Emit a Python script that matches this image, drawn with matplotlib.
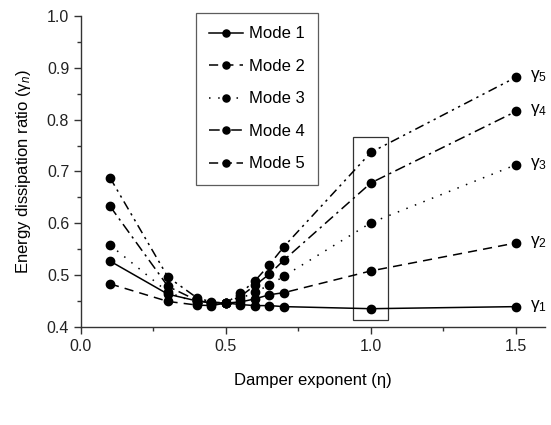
import matplotlib
matplotlib.use("Agg")
import matplotlib.pyplot as plt
from matplotlib.ticker import MultipleLocator, FormatStrFormatter
from matplotlib.patches import Rectangle

plt.rcParams['font.family'] = ['Liberation Sans', 'DejaVu Sans']
plt.rcParams['mathtext.fontset'] = 'custom'
plt.rcParams['mathtext.rm'] = 'Liberation Sans'
plt.rcParams['mathtext.it'] = 'Liberation Sans:italic'

eta = [0.1, 0.3, 0.4, 0.45, 0.5, 0.55, 0.6, 0.65, 0.7, 1.0, 1.5]
mode1 = [0.527, 0.463, 0.450, 0.446, 0.446, 0.443, 0.441, 0.441, 0.439, 0.435, 0.439]
mode2 = [0.483, 0.449, 0.442, 0.441, 0.446, 0.448, 0.454, 0.462, 0.466, 0.508, 0.562]
mode3 = [0.558, 0.467, 0.446, 0.444, 0.446, 0.454, 0.468, 0.480, 0.498, 0.601, 0.713]
mode4 = [0.633, 0.478, 0.451, 0.446, 0.446, 0.459, 0.480, 0.502, 0.529, 0.678, 0.816]
mode5 = [0.688, 0.496, 0.456, 0.448, 0.446, 0.465, 0.489, 0.520, 0.555, 0.737, 0.882]
labels = ['Mode 1', 'Mode 2', 'Mode 3', 'Mode 4', 'Mode 5']
end_labels = [r'γ$_1$', r'γ$_2$', r'γ$_3$', r'γ$_4$', r'γ$_5$']

series = [mode1, mode2, mode3, mode4, mode5]
styles = ['-', (0, (6, 4)), (0, (1, 5)), (0, (7, 3, 1.5, 3)), (0, (6, 3, 1.5, 3, 1.5, 3))]

fig = plt.figure(figsize=(5.51, 4.25), dpi=100)
ax = fig.add_axes([0.147, 0.231, 0.842, 0.731])

for s, ls, lab in zip(series, styles, labels):
    ax.plot(eta, s, linestyle=ls, color='black', lw=1.1, marker='o',
            markersize=6, markerfacecolor='black', markeredgecolor='black', label=lab)

for s, t in zip(series, end_labels):
    ax.text(1.55, s[-1] + 0.002, t, fontsize=12.5, va='center', ha='left', clip_on=False)

ax.add_patch(Rectangle((0.937, 0.413), 0.122, 0.353, fill=False, edgecolor='#333333', lw=0.9))

ax.set_xlim(0, 1.6)
ax.set_ylim(0.4, 1.0)
ax.xaxis.set_major_locator(MultipleLocator(0.5))
ax.xaxis.set_minor_locator(MultipleLocator(0.25))
ax.yaxis.set_major_locator(MultipleLocator(0.1))
ax.yaxis.set_minor_locator(MultipleLocator(0.05))
ax.spines['top'].set_visible(False)
ax.spines['right'].set_visible(False)
for sp in ('left', 'bottom'):
    ax.spines[sp].set_color('#333333')
    ax.spines[sp].set_linewidth(1.0)
ax.tick_params(which='major', length=5, width=1, labelsize=11.5, colors='#333333')
ax.tick_params(which='minor', length=3, width=1, colors='#333333')
ax.tick_params(labelcolor='#222222')
ax.xaxis.set_major_formatter(FormatStrFormatter('%.1f'))
ax.yaxis.set_major_formatter(FormatStrFormatter('%.1f'))

ax.set_xlabel('Damper exponent (η)', fontsize=12, labelpad=14)
ax.set_ylabel(r'Energy dissipation ratio (γ$_n$)', fontsize=12, labelpad=10)

leg = ax.legend(loc='upper left', bbox_to_anchor=(0.248, 1.01), frameon=True, fancybox=False,
                edgecolor='#333333', fontsize=12, handlelength=2.0, handletextpad=0.35,
                borderpad=0.8, labelspacing=1.05, borderaxespad=0, markerscale=0.85)
leg.get_frame().set_linewidth(0.9)

fig.savefig('out.png', dpi=100)
